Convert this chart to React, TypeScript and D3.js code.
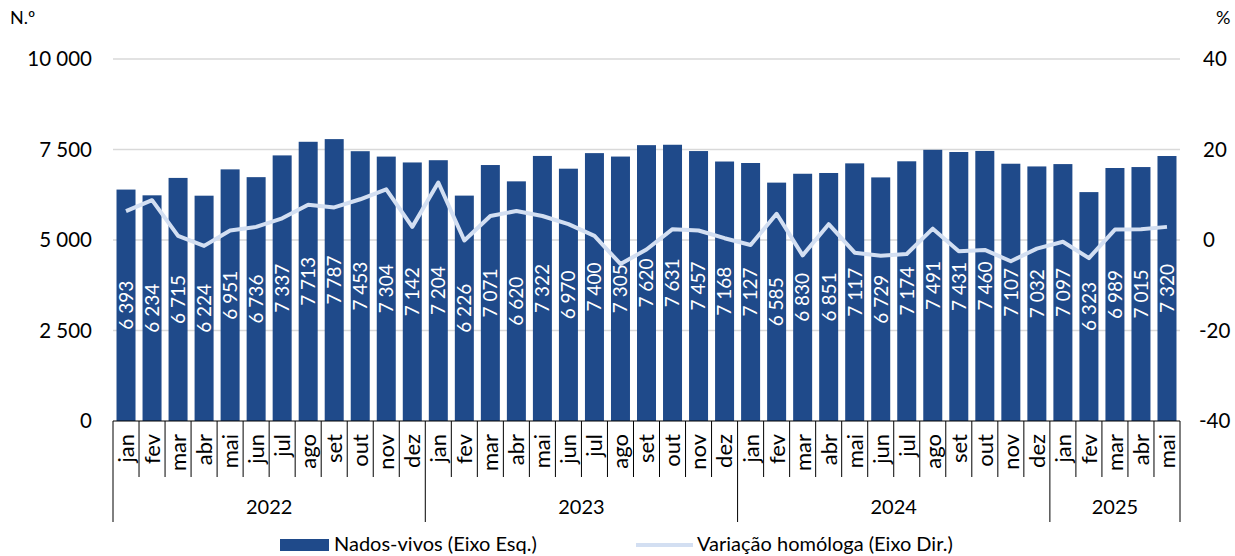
import * as d3 from "d3";

const months = ["jan", "fev", "mar", "abr", "mai", "jun", "jul", "ago", "set", "out", "nov", "dez"];
const years = ["2022", "2023", "2024", "2025"];
const monthsPerYear = [12, 12, 12, 5];

const births = [
  6393, 6234, 6715, 6224, 6951, 6736, 7337, 7713, 7787, 7453, 7304, 7142,
  7204, 6226, 7071, 6620, 7322, 6970, 7400, 7305, 7620, 7631, 7457, 7168,
  7127, 6585, 6830, 6851, 7117, 6729, 7174, 7491, 7431, 7460, 7107, 7032,
  7097, 6323, 6989, 7015, 7320,
];

const yoy = [
  6.4, 8.8, 0.9, -1.3, 2.1, 2.9, 4.8, 7.8, 7.2, 9.0, 11.2, 2.9,
  12.7, -0.1, 5.3, 6.4, 5.3, 3.5, 0.9, -5.3, -2.1, 2.4, 2.1, 0.4,
  -1.1, 5.8, -3.4, 3.5, -2.8, -3.5, -3.1, 2.5, -2.5, -2.2, -4.7, -1.9,
  -0.4, -4.0, 2.3, 2.4, 2.9,
];

const leftTicks = [0, 2500, 5000, 7500, 10000];
const rightTicks = [-40, -20, 0, 20, 40];

const W = 1235;
const H = 556;
const m = { left: 113, right: 1180, top: 59, bottom: 421 };
const FONT = "Lato, 'Open Sans', sans-serif";
const BAR = "#1f4a8a";
const LINE = "#d3dff2";

const fmt = (v: number) => d3.format(",")(v).replace(/,/g, " ");

export default function App() {
  const cats = births.map((_, i) => `${years[Math.floor(i / 12)]}-${months[i % 12]}`);
  const x = d3.scaleBand<string>().domain(cats).range([m.left, m.right]).paddingInner(0.27).paddingOuter(0.135);
  const step = x.step();
  const yL = d3.scaleLinear().domain([0, 10000]).range([m.bottom, m.top]);
  const yR = d3.scaleLinear().domain([-40, 40]).range([m.bottom, m.top]);

  const line = d3
    .line<number>()
    .x((_, i) => (x(cats[i]) as number) + x.bandwidth() / 2)
    .y((d) => yR(d));

  const yearBounds: number[] = [0];
  monthsPerYear.forEach((n, i) => yearBounds.push(yearBounds[i] + n));

  return (
    <svg width={W} height={H} style={{ position: "absolute", left: 0, top: 0 }} fontFamily={FONT}>
      {leftTicks.map((t) => (
        <g key={t}>
          {t > 0 && <line x1={m.left} x2={m.right} y1={yL(t)} y2={yL(t)} stroke="#d9d9d9" strokeWidth={1.3} />}
          <text x={92} y={yL(t)} dy="0.36em" textAnchor="end" fontSize={20.5}>
            {fmt(t)}
          </text>
        </g>
      ))}
      {rightTicks.map((t) => (
        <text key={t} x={t < 0 ? 1199 : 1203} y={yR(t)} dy="0.36em" textAnchor="start" fontSize={20.5}>
          {t}
        </text>
      ))}
      <text x={10} y={24} fontSize={18}>N.º</text>
      <text x={1216} y={24} fontSize={18}>%</text>

      {births.map((v, i) => {
        const bx = x(cats[i]) as number;
        const cx = bx + x.bandwidth() / 2;
        const cy = (yL(v) + yL(0)) / 2;
        return (
          <g key={cats[i]}>
            <rect x={bx} y={yL(v)} width={x.bandwidth()} height={yL(0) - yL(v)} fill={BAR} />
            <text
              transform={`translate(${cx},${cy}) rotate(-90)`}
              textAnchor="middle"
              dy="0.36em"
              fill="#fff"
              fontSize={19}
            >
              {fmt(v)}
            </text>
          </g>
        );
      })}

      <path d={line(yoy) || ""} fill="none" stroke={LINE} strokeWidth={4} strokeLinejoin="round" />

      <line x1={m.left} x2={m.right} y1={m.bottom} y2={m.bottom} stroke="#000" strokeWidth={1.2} />
      {d3.range(births.length + 1).map((i) => {
        const isYear = yearBounds.includes(i);
        return (
          <line
            key={i}
            x1={m.left + i * step}
            x2={m.left + i * step}
            y1={m.bottom}
            y2={isYear ? 522 : 477}
            stroke="#000"
            strokeWidth={1}
          />
        );
      })}
      {births.map((_, i) => (
        <text
          key={i}
          transform={`translate(${m.left + (i + 0.5) * step},434) rotate(-90)`}
          textAnchor="end"
          dy="0.36em"
          fontSize={22}
        >
          {months[i % 12]}
        </text>
      ))}
      {years.map((yr, k) => (
        <text
          key={yr}
          x={m.left + ((yearBounds[k] + yearBounds[k + 1]) / 2) * step}
          y={514}
          textAnchor="middle"
          fontSize={20}
        >
          {yr}
        </text>
      ))}

      <rect x={280} y={539} width={49} height={12} fill={BAR} />
      <text x={334} y={551} fontSize={20}>Nados-vivos (Eixo Esq.)</text>
      <line x1={636} x2={693} y1={545} y2={545} stroke={LINE} strokeWidth={4} />
      <text x={697} y={551} fontSize={20}>Variação homóloga (Eixo Dir.)</text>
    </svg>
  );
}
